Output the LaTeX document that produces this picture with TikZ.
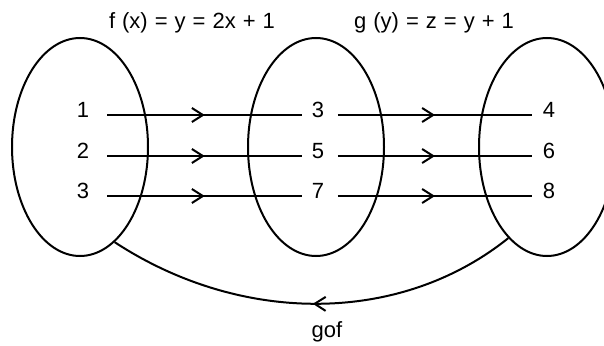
\documentclass[tikz,border=0pt]{standalone}
\usepackage{fontspec}
\setmainfont{Liberation Sans}[WordSpace=1.15]
\usetikzlibrary{shapes.geometric,decorations.markings,arrows.meta}

\begin{document}
\begin{tikzpicture}[
  x=1pt, y=-1pt,
  every node/.style={inner sep=1pt, font=\fontsize{22}{26}\selectfont},
  set/.style={ellipse, draw, line width=2pt, minimum width=136pt, minimum height=218pt, inner sep=0pt},
  % one open barb half way along a connector
  midtip/.style={postaction=decorate, decoration={markings,
      mark=at position 0.5 with {\arrow{Straight Barb[length=11pt,width=14pt]}}}},
  map/.style={draw, line width=2pt, midtip}]

  \clip (0,0) rectangle (604,345);

  % sets
  \node[set] (X) at (80,147)  {};
  \node[set] (Y) at (316,147) {};
  \node[set] (Z) at (547,147) {};

  % elements
  \node (x1) at (83,110)  {1};
  \node (x2) at (83,151)  {2};
  \node (x3) at (83,191)  {3};
  \node (y1) at (318,110) {3};
  \node (y2) at (318,151) {5};
  \node (y3) at (318,191) {7};
  \node (z1) at (549,110) {4};
  \node (z2) at (549,151) {6};
  \node (z3) at (549,191) {8};

  % arrows
  \draw[map] ([xshift=17pt,yshift=-5pt]x1.east) -- ([xshift=-8.5pt,yshift=-5pt]y1.west);
  \draw[map] ([xshift=17pt,yshift=-5pt]x2.east) -- ([xshift=-8.5pt,yshift=-5pt]y2.west);
  \draw[map] ([xshift=17pt,yshift=-5pt]x3.east) -- ([xshift=-8.5pt,yshift=-5pt]y3.west);
  \draw[map] ([xshift=12.5pt,yshift=-5pt]y1.east) -- ([xshift=-9.5pt,yshift=-5pt]z1.west);
  \draw[map] ([xshift=12.5pt,yshift=-5pt]y2.east) -- ([xshift=-9.5pt,yshift=-5pt]z2.west);
  \draw[map] ([xshift=12.5pt,yshift=-5pt]y3.east) -- ([xshift=-9.5pt,yshift=-5pt]z3.west);
  \draw[map] (Z.-113) .. controls (400,325) and (241,325) .. (X.-70);

  % labels printed inside the picture
  \node (f)   at (192,23)  {f (x) = y = 2x + 1};
  \node (g)   at (434,23)  {g (y) = z = y + 1};
  \node (gof) at (327,332) {gof};
\end{tikzpicture}
\end{document}
